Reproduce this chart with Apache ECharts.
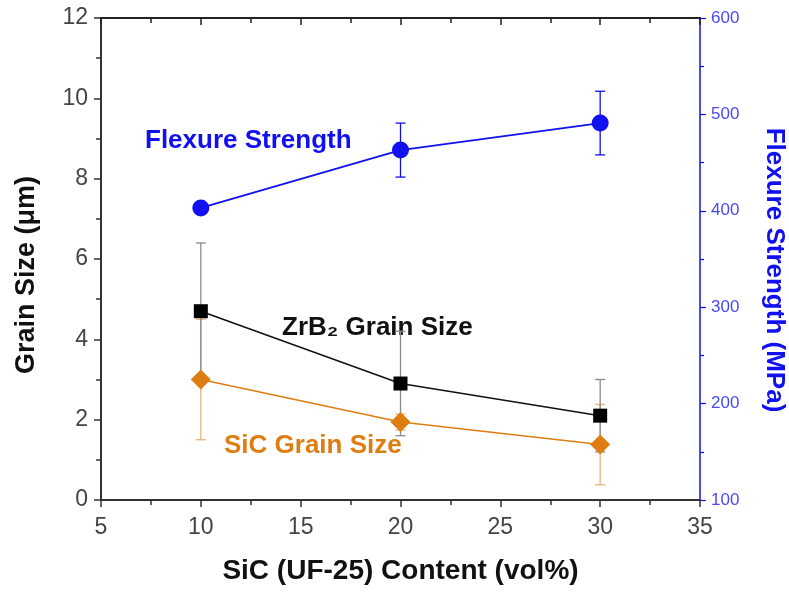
<!DOCTYPE html>
<html>
<head>
<meta charset="utf-8">
<script src="https://cdn.jsdelivr.net/npm/echarts@6/dist/echarts.min.js"></script>
<style>
  html, body { margin: 0; padding: 0; background: #fff; }
  #chart { width: 789px; height: 594px; }
</style>
</head>
<body>
<div id="chart"></div>
<script>
// SiC content (vol%)
const sicContent = [10, 20, 30];

// ZrB2 grain size (um) and std dev
const zrb2Size = [4.7, 2.9, 2.1];
const zrb2Err = [1.7, 1.3, 0.9];

// SiC grain size (um) and std dev
const sicSize = [3.0, 1.94, 1.38];
const sicErr = [1.5, 0.2, 1.0];

// flexure strength (MPa) and std dev
const flexure = [403, 463, 491];
const flexureErr = [4, 28, 33];

const FONT = 'Liberation Sans, Arial, sans-serif';
const BLUE = '#1010f0';
const ORANGE = '#de7d12';

const pairs = (ys) => sicContent.map((x, i) => [x, ys[i]]);
const errData = (ys, es) => sicContent.map((x, i) => [x, ys[i] - es[i], ys[i] + es[i]]);

function errorBar(color, yAxisIndex, ys, es, z) {
  return {
    type: 'custom',
    yAxisIndex: yAxisIndex,
    z: z,
    data: errData(ys, es),
    renderItem: function (params, api) {
      const lo = api.coord([api.value(0), api.value(1)]);
      const hi = api.coord([api.value(0), api.value(2)]);
      const w = 5;
      const style = { stroke: color, lineWidth: 1.3 };
      return {
        type: 'group',
        children: [
          { type: 'line', shape: { x1: lo[0], y1: lo[1], x2: hi[0], y2: hi[1] }, style: style },
          { type: 'line', shape: { x1: lo[0] - w, y1: lo[1], x2: lo[0] + w, y2: lo[1] }, style: style },
          { type: 'line', shape: { x1: hi[0] - w, y1: hi[1], x2: hi[0] + w, y2: hi[1] }, style: style }
        ]
      };
    }
  };
}

const chart = echarts.init(document.getElementById('chart'));
chart.setOption({
  animation: false,
  backgroundColor: '#fff',
  grid: { left: 101, right: 89, top: 18, bottom: 94 },
  xAxis: [
    {
      type: 'value', min: 5, max: 35, interval: 5,
      name: 'SiC (UF-25) Content (vol%)', nameLocation: 'middle', nameGap: 57,
      nameTextStyle: { fontFamily: FONT, fontSize: 28, fontWeight: 'bold', color: '#111' },
      axisLine: { lineStyle: { color: '#333', width: 2 } },
      axisTick: { show: true, length: 7, lineStyle: { color: '#333', width: 1.5 } },
      minorTick: { show: true, splitNumber: 2, length: 5, lineStyle: { color: '#333', width: 1.5 } },
      axisLabel: { fontFamily: FONT, fontSize: 23, color: '#444', margin: 16 },
      splitLine: { show: false }
    },
    {
      type: 'value', min: 5, max: 35, interval: 5, position: 'top',
      axisLine: { lineStyle: { color: '#222', width: 2 } },
      axisTick: { show: true, inside: true, length: 7, lineStyle: { color: '#222', width: 1.5 } },
      minorTick: { show: true, splitNumber: 2, length: 5, lineStyle: { color: '#222', width: 1.5 } },
      axisLabel: { show: false },
      splitLine: { show: false }
    }
  ],
  yAxis: [
    {
      type: 'value', min: 0, max: 12, interval: 2,
      axisLine: { show: true, lineStyle: { color: '#333', width: 2 } },
      axisTick: { show: true, length: 7, lineStyle: { color: '#333', width: 1.5 } },
      minorTick: { show: true, splitNumber: 2, length: 5, lineStyle: { color: '#333', width: 1.5 } },
      axisLabel: { fontFamily: FONT, fontSize: 23, color: '#444', margin: 13 },
      splitLine: { show: false }
    },
    {
      type: 'value', min: 100, max: 600, interval: 100, position: 'right',
      axisLine: { show: true, lineStyle: { color: BLUE, width: 1.5 } },
      axisTick: { show: true, length: 6, lineStyle: { color: BLUE, width: 1.2 } },
      minorTick: { show: true, splitNumber: 2, length: 4, lineStyle: { color: BLUE, width: 1.2 } },
      axisLabel: { fontFamily: FONT, fontSize: 17, color: '#4a4af0', margin: 11 },
      splitLine: { show: false }
    }
  ],
  series: [
    errorBar('#eab27a', 0, sicSize, sicErr, 1),
    errorBar('#8a8a8a', 0, zrb2Size, zrb2Err, 2),
    errorBar(BLUE, 1, flexure, flexureErr, 2),
    {
      type: 'line', yAxisIndex: 0, z: 4, data: pairs(zrb2Size),
      symbol: 'rect', symbolSize: 14,
      lineStyle: { color: '#111', width: 1.5 },
      itemStyle: { color: '#000' }
    },
    {
      type: 'line', yAxisIndex: 0, z: 5, data: pairs(sicSize),
      symbol: 'diamond', symbolSize: [20, 20],
      lineStyle: { color: ORANGE, width: 1.5 },
      itemStyle: { color: ORANGE }
    },
    {
      type: 'line', yAxisIndex: 1, z: 5, data: pairs(flexure),
      symbol: 'circle', symbolSize: 17,
      lineStyle: { color: BLUE, width: 1.8 },
      itemStyle: { color: BLUE }
    }
  ],
  graphic: [
    { type: 'text', x: 27, y: 275, rotation: Math.PI / 2,
      style: { text: 'Grain Size (\u03bcm)', font: 'bold 27px ' + FONT, fill: '#111', align: 'center', verticalAlign: 'middle' } },
    { type: 'text', x: 774, y: 270, rotation: -Math.PI / 2,
      style: { text: 'Flexure Strength (MPa)', font: 'bold 26px ' + FONT, fill: BLUE, align: 'center', verticalAlign: 'middle' } },
    { type: 'text', left: 145, top: 128, style: { text: 'Flexure Strength', font: 'bold 26px ' + FONT, fill: BLUE } },
    { type: 'text', left: 282, top: 315, style: { text: 'ZrB\u2082 Grain Size', font: 'bold 26px ' + FONT, fill: '#111' } },
    { type: 'text', left: 224, top: 433, style: { text: 'SiC Grain Size', font: 'bold 26px ' + FONT, fill: ORANGE } }
  ]
});
</script>
</body>
</html>
